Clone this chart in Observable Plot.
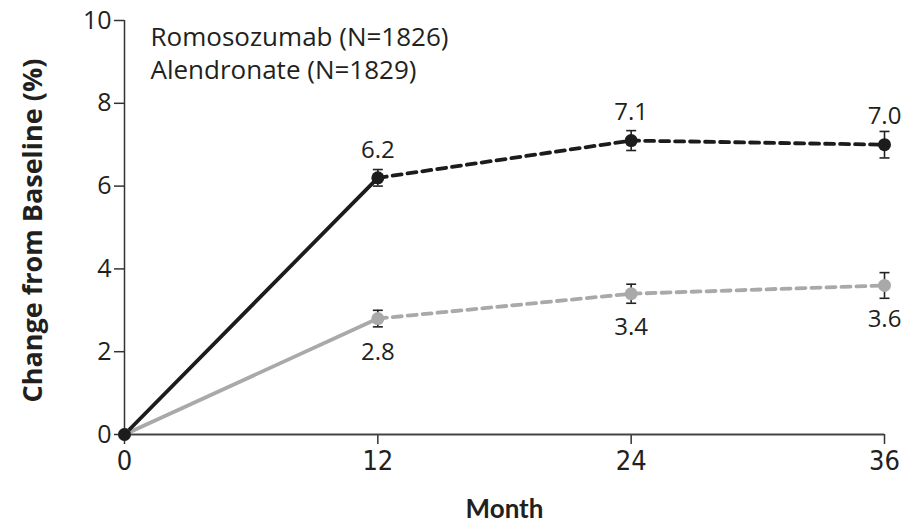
<!DOCTYPE html>
<html><head><meta charset="utf-8">
<script src="https://cdn.jsdelivr.net/npm/d3@7"></script>
<script src="https://cdn.jsdelivr.net/npm/@observablehq/plot@0.6"></script>
<style>
body{margin:0;background:#fff;}
</style></head><body><div id="chart"></div>
<script>
const months = [0, 12, 24, 36];
const romoValues = [0, 6.2, 7.1, 7.0];
const romoErr = [0, 0.2, 0.24, 0.32];
const alenValues = [0, 2.8, 3.4, 3.6];
const alenErr = [0, 0.2, 0.23, 0.31];
const seriesNames = ["Romosozumab (N=1826)", "Alendronate (N=1829)"];
const yTicks = [0, 2, 4, 6, 8, 10];
const xTicks = [0, 12, 24, 36];
const xLabel = "Month";
const yLabel = "Change from Baseline (%)";

const romoColor = "#1c1c1c";
const alenColor = "#a9a9a9";

const romo = months.map((m, i) => ({month: m, value: romoValues[i], err: romoErr[i], series: "romo"}));
const alen = months.map((m, i) => ({month: m, value: alenValues[i], err: alenErr[i], series: "alen"}));

const cap = {draw(ctx, size) { const w = Math.sqrt(size / Math.PI); ctx.moveTo(-w, 0); ctx.lineTo(w, 0); }};

const sans = "'Open Sans', Lato, 'Noto Sans', sans-serif";
const lato = "Lato, 'Open Sans', sans-serif";
const narrow = "'Liberation Sans Narrow', 'DejaVu Sans Condensed', 'Roboto Condensed', sans-serif";

const mkLines = (rows, color) => [
  Plot.line(rows.filter(d => d.month <= 12), {x: "month", y: "value", stroke: color, strokeWidth: 3.8}),
  Plot.line(rows.filter(d => d.month >= 12), {x: "month", y: "value", stroke: color, strokeWidth: 3.8, strokeDasharray: "9,6"})
];
const mkErr = (rows) => {
  const r = rows.filter(d => d.err > 0);
  return [
    Plot.ruleX(r, {x: "month", y1: d => d.value - d.err, y2: d => d.value + d.err, stroke: "#222", strokeWidth: 1.6}),
    Plot.dot(r, {x: "month", y: d => d.value - d.err, symbol: cap, r: 5, stroke: "#222", fill: "none", strokeWidth: 1.6}),
    Plot.dot(r, {x: "month", y: d => d.value + d.err, symbol: cap, r: 5, stroke: "#222", fill: "none", strokeWidth: 1.6})
  ];
};

const chart = Plot.plot({
  width: 907,
  height: 530,
  marginLeft: 124,
  marginRight: 23,
  marginTop: 20,
  marginBottom: 96,
  style: {background: "#fff", color: "#333"},
  x: {domain: [0, 36]},
  y: {domain: [0, 10]},
  marks: [
    Plot.axisY({ticks: yTicks, tickSize: 10, tickPadding: 3, fontSize: 25, fontFamily: sans, label: null, stroke: "#333", strokeWidth: 1.5, fill: "#231f20"}),
    Plot.axisX({ticks: xTicks, tickSize: 10, tickPadding: 6, fontSize: 27, fontFamily: narrow, label: null, stroke: "#333", strokeWidth: 1.5, fill: "#231f20"}),
    Plot.ruleX([0], {stroke: "#333", strokeWidth: 1.5}),
    Plot.ruleY([0], {stroke: "#444", strokeWidth: 2.2}),
    ...mkLines(alen, alenColor),
    ...mkLines(romo, romoColor),
    ...mkErr(alen),
    ...mkErr(romo),
    Plot.dot(alen, {x: "month", y: "value", fill: alenColor, r: 6.5}),
    Plot.dot(romo, {x: "month", y: "value", fill: romoColor, r: 6.5}),
    Plot.text(romo.filter(d => d.month > 0), {x: "month", y: "value", text: d => d.value.toFixed(1), dy: -28, fontSize: 24, fontFamily: sans, fill: "#231f20"}),
    Plot.text(alen.filter(d => d.month > 0), {x: "month", y: "value", text: d => d.value.toFixed(1), dy: 34, fontSize: 24, fontFamily: sans, fill: "#231f20"}),
    Plot.text([seriesNames.join("\n")], {frameAnchor: "top-left", textAnchor: "start", lineAnchor: "top", lineHeight: 1.27, dx: 26, dy: 2, fontSize: 26, fontFamily: sans, fill: "#231f20"}),
    Plot.text([xLabel], {frameAnchor: "bottom", dy: 83, fontSize: 26, fontWeight: "bold", fontFamily: lato, fill: "#231f20"}),
    Plot.text([yLabel], {frameAnchor: "left", textAnchor: "middle", rotate: -90, dx: -91, dy: 3, fontSize: 27, fontWeight: "bold", fontFamily: sans, fill: "#231f20"})
  ]
});
document.getElementById("chart").appendChild(chart);
</script>
</body></html>
